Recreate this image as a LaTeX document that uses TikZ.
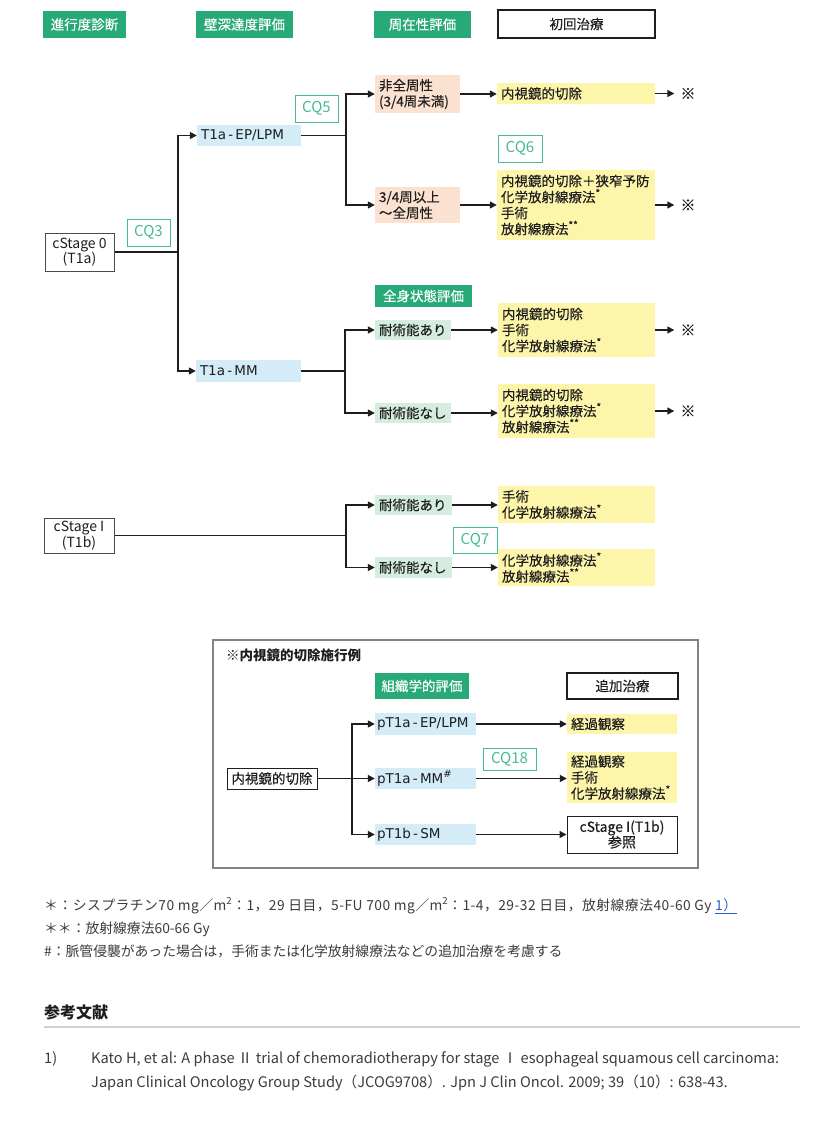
\documentclass[tikz,border=0pt]{standalone}
\usepackage{fontspec}
\setmainfont{Noto Sans CJK JP}
\newfontfamily\dgfont[FakeBold=0.3]{Noto Sans CJK JP}
\newfontfamily\latfont{DejaVu Sans}
\newfontfamily\widefn[LetterSpace=3.5]{Noto Sans CJK JP}
\usetikzlibrary{arrows.meta}
\definecolor{hgreen}{RGB}{40,170,120}
\definecolor{cqgreen}{RGB}{70,185,150}
\definecolor{lblue}{RGB}{212,235,248}
\definecolor{peach}{RGB}{251,225,207}
\definecolor{yel}{RGB}{253,245,170}
\definecolor{lgreen}{RGB}{213,237,223}
\definecolor{ink}{RGB}{30,30,30}
\definecolor{fn}{RGB}{60,60,60}
\definecolor{link}{RGB}{30,100,200}
\definecolor{frameg}{RGB}{130,130,130}
\newcommand\supast[1]{\raisebox{0.4em}{\fontsize{10}{10}\selectfont #1}}
\begin{document}
\begin{tikzpicture}[x=1pt,y=-1pt,
  font=\dgfont\fontsize{13.5}{16}\selectfont,
  every node/.style={inner sep=0pt,text=ink},
  hdr/.style={fill=hgreen,text=white,minimum height=27pt,align=center},
  cq/.style={draw=cqgreen,line width=1pt,text=cqgreen,fill=white,minimum width=43pt,minimum height=27pt,font=\fontsize{15}{16}\selectfont},
  bbox/.style={draw=ink,line width=1pt,fill=white,align=center},
  lbox/.style={inner xsep=4pt,align=left},
  bluebox/.style={lbox,fill=lblue,font=\latfont\fontsize{13.5}{16}\selectfont},
  peachbox/.style={lbox,fill=peach},
  yelbox/.style={lbox,fill=yel},
  grnbox/.style={lbox,fill=lgreen},
  refmark/.style={inner xsep=6pt,font=\dgfont\fontsize{15}{16}\selectfont},
  ln/.style={draw=ink,line width=1.5pt},
  arr/.style={ln,-{Triangle[length=7pt,width=7pt]}},
  fnote/.style={anchor=base west,text=fn,font=\rmfamily\fontsize{13.8}{16}\selectfont},
  refnote/.style={anchor=base west,text=fn,font=\rmfamily\fontsize{14.6}{16}\selectfont}
]
\fill[white] (0,0) rectangle (823,1136);
\useasboundingbox (0,0) rectangle (823,1136);

% headers
\node[hdr,minimum width=83pt] (h1) at (84.5,24.5) {進行度診断};
\node[hdr,minimum width=97pt] (h2) at (244.5,24.5) {壁深達度評価};
\node[hdr,minimum width=97pt] (h3) at (422.5,24.5) {周在性評価};
\node[bbox,line width=1.3pt,minimum width=157pt,minimum height=28pt] (h4) at (576.5,24) {初回治療};

% cStage 0
\node[bbox,draw=ink!80,minimum width=69pt,minimum height=38pt,font=\rmfamily\fontsize{14}{15.5}\selectfont] (s0) at (79.5,252) {cStage 0\\(T1a)};
\node[cq] (cq3) at (148.5,232.5) {CQ3};
\node[bluebox,minimum width=104pt,minimum height=21pt,text width=96pt] (epl) at (249,135.5) {\mbox{T1a\,-\,EP/LPM}};
\node[bluebox,minimum width=105pt,minimum height=22pt,text width=97pt] (mm) at (248.5,371) {\mbox{T1a\,-\,MM}};
\node[cq] (cq5) at (316.5,108.5) {CQ5};
\node[peachbox,minimum width=85pt,minimum height=38pt,text width=77pt] (nz) at (417.5,94) {非全周性\\(3/4周未満)};
\node[peachbox,minimum width=85pt,minimum height=36pt,text width=77pt] (z) at (417.5,205) {3/4周以上\\～全周性};
\node[yelbox,minimum width=158pt,minimum height=21pt,text width=150pt] (y1) at (576,93.5) {内視鏡的切除};
\node[cq,minimum width=44pt] (cq6) at (520,148.5) {CQ6};
\node[yelbox,minimum width=158pt,minimum height=70pt,text width=150pt] (y2) at (576,205) {内視鏡的切除＋狭窄予防\\化学放射線療法\supast{*}\\手術\\放射線療法\supast{**}};
\node[refmark] (m1) at (688,93.5) {※};
\node[refmark] (m2) at (688,205) {※};

\coordinate (t0) at (178,252);
\draw[ln] (s0.east) -- (t0);
\draw[arr] (t0) |- (epl.west);
\draw[arr] (t0) |- (mm.west);
\coordinate (t1) at (346,135.5);
\draw[ln] (epl.east) -- (t1);
\draw[arr] (t1) |- (nz.west);
\draw[arr] (t1) |- (z.west);
\draw[arr] (nz.east) -- (nz.east -| y1.west);
\draw[arr] (z.east) -- (y2.west);
\draw[arr] (y1.east) -- (m1.west);
\draw[arr] (y2.east) -- (m2.west);

% T1a-MM
\node[hdr,minimum width=97pt,minimum height=22pt] (gen) at (423.5,296) {全身状態評価};
\node[grnbox,minimum width=76pt,minimum height=20pt,text width=68pt] (a1) at (413,330) {耐術能あり};
\node[grnbox,minimum width=76pt,minimum height=20pt,text width=68pt] (a2) at (413,413) {耐術能なし};
\node[yelbox,minimum width=157pt,minimum height=54pt,text width=149pt] (y3) at (576.5,330) {内視鏡的切除\\手術\\化学放射線療法\supast{*}};
\node[yelbox,minimum width=157pt,minimum height=54pt,text width=149pt] (y4) at (576.5,411) {内視鏡的切除\\化学放射線療法\supast{*}\\放射線療法\supast{**}};
\node[refmark] (m3) at (688,330) {※};
\node[refmark] (m4) at (688,411) {※};
\coordinate (t2) at (345,371);
\draw[ln] (mm.east) -- (t2);
\draw[arr] (t2) |- (a1.west);
\draw[arr] (t2) |- (a2.west);
\draw[arr] (a1.east) -- (y3.west);
\draw[arr] (a2.east) -- (a2.east -| y4.west);
\draw[arr] (y3.east) -- (m3.west);
\draw[arr] (y4.east) -- (m4.west);

% cStage I
\node[bbox,draw=ink!80,minimum width=70pt,minimum height=35pt,font=\rmfamily\fontsize{14}{15.5}\selectfont] (s1) at (79,535.5) {cStage I\\(T1b)};
\node[grnbox,minimum width=77pt,minimum height=20pt,text width=69pt] (b1) at (413.5,505) {耐術能あり};
\node[grnbox,minimum width=77pt,minimum height=21pt,text width=69pt] (b2) at (413.5,567.5) {耐術能なし};
\node[yelbox,minimum width=157pt,minimum height=37pt,text width=149pt] (y5) at (576.5,504.5) {手術\\化学放射線療法\supast{*}};
\node[yelbox,minimum width=157pt,minimum height=37pt,text width=149pt] (y6) at (576.5,567.5) {化学放射線療法\supast{*}\\放射線療法\supast{**}};
\node[cq,minimum width=44pt,minimum height=26pt] (cq7) at (475,540) {CQ7};
\coordinate (t3) at (346,535.5);
\draw[ln] (s1.east) -- (t3);
\draw[arr] (t3) |- (b1.west);
\draw[arr] (t3) |- (b2.west);
\draw[arr] (b1.east) -- (b1.east -| y5.west);
\draw[arr] (b2.east) -- (y6.west);

% endoscopic resection box
\node[draw=frameg,line width=1.3pt,minimum width=485pt,minimum height=228pt] (frame) at (455.5,754) {};
\node[anchor=west,font=\rmfamily\fontsize{13.5}{15}\selectfont\bfseries] (ttl) at (226,655) {※内視鏡的切除施行例};
\node[hdr,minimum width=94pt,minimum height=26pt] (hist) at (422,686) {組織学的評価};
\node[bbox,line width=1.5pt,minimum width=111pt,minimum height=26pt] (add) at (622.5,686) {追加治療};
\node[bbox,minimum width=90pt,minimum height=21pt] (endo) at (272,778.5) {内視鏡的切除};
\node[bluebox,minimum width=101pt,minimum height=22pt,text width=97pt,inner xsep=2pt] (p1) at (425.5,724) {\mbox{pT1a\,-\,EP/LPM}};
\node[bluebox,minimum width=101pt,minimum height=21pt,text width=97pt,inner xsep=2pt] (p2) at (425.5,778.5) {\mbox{pT1a\,-\,MM\supast{\#}}};
\node[bluebox,minimum width=101pt,minimum height=21pt,text width=97pt,inner xsep=2pt] (p3) at (425.5,834.5) {\mbox{pT1b\,-\,SM}};
\node[yelbox,minimum width=110pt,minimum height=20pt,text width=102pt] (r1) at (622,724) {経過観察};
\node[yelbox,minimum width=110pt,minimum height=51pt,text width=102pt] (r2) at (622,777.5) {経過観察\\手術\\化学放射線療法\supast{*}};
\node[bbox,minimum width=110pt,minimum height=37pt,font=\dgfont\fontsize{14}{15.5}\selectfont] (r3) at (622,834.5) {cStage I(T1b)\\参照};
\node[cq,minimum width=53pt,minimum height=22pt] (cq18) at (509.5,759) {CQ18};
\coordinate (t4) at (352,778.5);
\draw[ln] (endo.east) -- (t4);
\draw[arr] (t4) |- (p1.west);
\draw[arr] (t4) -- (p2.west);
\draw[arr] (t4) |- (p3.west);
\draw[arr] (p1.east) -- (p1.east -| r1.west);
\draw[arr] (p2.east) -- (p2.east -| r2.west);
\draw[arr] (p3.east) -- (r3.west);

% footnotes
\node[fnote,font=\widefn\fontsize{13.8}{16}\selectfont] (f1) at (44,910) {＊：シスプラチン70 mg／m\textsuperscript{2}：1，29 日目，5-FU 700 mg／m\textsuperscript{2}：1-4，29-32 日目，放射線療法40-60 Gy \textcolor{link}{\underline{1）}}};
\node[fnote] (f2) at (44,933) {＊＊：放射線療法60-66 Gy};
\node[fnote] (f3) at (44,956) {\#：脈管侵襲があった場合は，手術または化学放射線療法などの追加治療を考慮する};

\node[anchor=base west,font=\rmfamily\fontsize{16}{18}\selectfont\bfseries] (refh) at (44,1018) {参考文献};
\draw[draw=black!18,line width=2pt] (44,1027) -- (800,1027);
\node[refnote] (r1n) at (44,1063) {1)};
\node[refnote] (rt1) at (91,1063) {Kato H, et al: A phase Ⅱ trial of chemoradiotherapy for stage Ⅰ esophageal squamous cell carcinoma:};
\node[refnote] (rt2) at (91,1087) {Japan Clinical Oncology Group Study（JCOG9708）. Jpn J Clin Oncol. 2009; 39（10）: 638-43.};
\end{tikzpicture}
\end{document}
